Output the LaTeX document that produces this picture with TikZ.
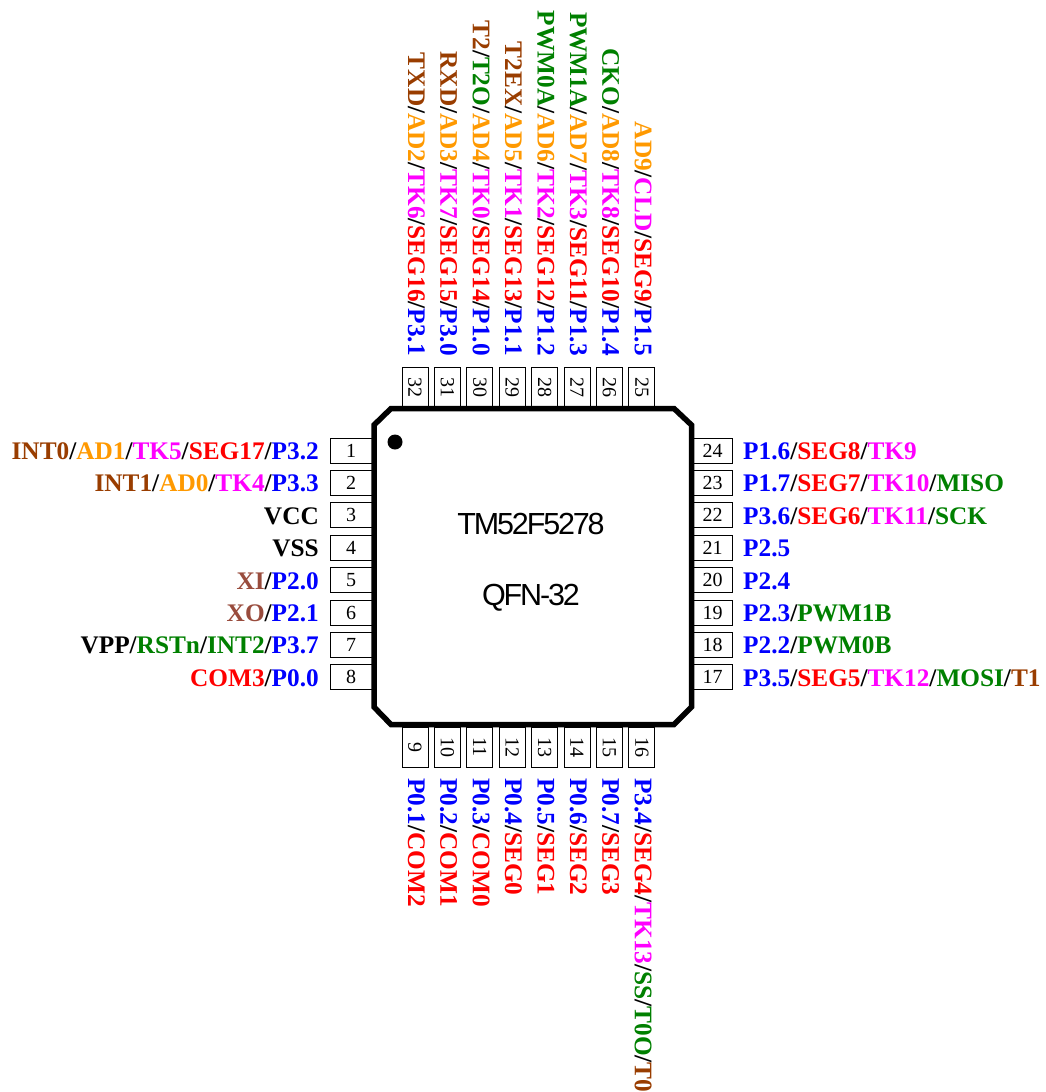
\documentclass[tikz,border=0pt]{standalone}
\usepackage{fontspec}
\setmainfont{Liberation Serif}
\newfontfamily\chipfont[LetterSpace=-7]{Liberation Sans}
\definecolor{cbr}{RGB}{153,61,0}
\definecolor{cor}{RGB}{255,153,0}
\definecolor{cxt}{RGB}{153,76,61}
\definecolor{cgr}{RGB}{0,128,0}
\definecolor{cmg}{RGB}{255,0,255}
\definecolor{crd}{RGB}{255,0,0}
\definecolor{cbl}{RGB}{0,0,255}
\newcommand{\br}[1]{\textcolor{cbr}{#1}}
\newcommand{\og}[1]{\textcolor{cor}{#1}}
\newcommand{\mg}[1]{\textcolor{cmg}{#1}}
\newcommand{\rd}[1]{\textcolor{crd}{#1}}
\newcommand{\bl}[1]{\textcolor{cbl}{#1}}
\newcommand{\gn}[1]{\textcolor{cgr}{#1}}
\newcommand{\xt}[1]{\textcolor{cxt}{#1}}
\tikzset{
  pinh/.style={draw=black,line width=1pt,fill=white,minimum width=42pt,minimum height=25pt,inner sep=0pt,font=\fontsize{20}{20}\selectfont},
  pinv/.style={pinh,rotate=-90,minimum width=40pt,minimum height=26pt},
  lab/.style={inner sep=0pt,font=\bfseries\fontsize{25.3}{25.3}\selectfont},
  labl/.style={lab,anchor=base east},
  labr/.style={lab,anchor=base west},
  labv/.style={lab,anchor=base west,rotate=-90},
  labt/.style={lab,anchor=base east,rotate=-90},
  chipbody/.style={line width=5.5pt,line join=miter,draw=black,fill=white},
  chiptext/.style={inner sep=0pt,font=\chipfont\fontsize{30.5}{30.5}\selectfont}
}
\begin{document}
\begin{tikzpicture}[x=1pt,y=-1pt]
\useasboundingbox (0,0) rectangle (1046,1092);
% pins
\foreach \n/\c in {1/0,2/1,3/2,4/3,5/4,6/5,7/6,8/7}
  \node[pinh] (p\n) at (351,450.5+32.4*\c) {\n};
\foreach \n/\c in {24/0,23/1,22/2,21/3,20/4,19/5,18/6,17/7}
  \node[pinh,minimum width=40pt] (p\n) at (712.5,450.5+32.4*\c) {\n};
\foreach \n/\c in {32/0,31/1,30/2,29/3,28/4,27/5,26/6,25/7}
  \node[pinv] (p\n) at (415+32.4*\c,387) {\n};
\foreach \n/\c in {9/0,10/1,11/2,12/3,13/4,14/5,15/6,16/7}
  \node[pinv] (p\n) at (415+32.4*\c,747) {\n};
% chip
\draw[chipbody] (391,408.5) -- (674,408.5) -- (691.5,425) -- (691.5,707) -- (674,724.5) -- (391,724.5) -- (374,707) -- (374,425) -- cycle;
\fill (395,442) circle (7.5);
\node[chiptext] (name) at (531,524) {TM52F5278};
\node[chiptext] (pkg) at (531,598) {QFN-32};
% left labels
\node[labl] (l1) at (319,459.4) {\br{INT0}/\og{AD1}/\mg{TK5}/\rd{SEG17}/\bl{P3.2}};
\node[labl] (l2) at (319,491.8) {\br{INT1}/\og{AD0}/\mg{TK4}/\bl{P3.3}};
\node[labl] (l3) at (319,524.2) {VCC};
\node[labl] (l4) at (319,556.6) {VSS};
\node[labl] (l5) at (319,589) {\xt{XI}/\bl{P2.0}};
\node[labl] (l6) at (319,621.4) {\xt{XO}/\bl{P2.1}};
\node[labl] (l7) at (319,653.8) {VPP/\gn{RSTn}/\gn{INT2}/\bl{P3.7}};
\node[labl] (l8) at (319,686.2) {\rd{COM3}/\bl{P0.0}};
% right labels
\node[labr] (r24) at (743,459.4) {\bl{P1.6}/\rd{SEG8}/\mg{TK9}};
\node[labr] (r23) at (743,491.8) {\bl{P1.7}/\rd{SEG7}/\mg{TK10}/\gn{MISO}};
\node[labr] (r22) at (743,524.2) {\bl{P3.6}/\rd{SEG6}/\mg{TK11}/\gn{SCK}};
\node[labr] (r21) at (743,556.6) {\bl{P2.5}};
\node[labr] (r20) at (743,589) {\bl{P2.4}};
\node[labr] (r19) at (743,621.4) {\bl{P2.3}/\gn{PWM1B}};
\node[labr] (r18) at (743,653.8) {\bl{P2.2}/\gn{PWM0B}};
\node[labr] (r17) at (743,686.2) {\bl{P3.5}/\rd{SEG5}/\mg{TK12}/\gn{MOSI}/\br{T1}};
% top labels
\node[labt] (t32) at (408,356) {\br{TXD}/\og{AD2}/\mg{TK6}/\rd{SEG16}/\bl{P3.1}};
\node[labt] (t31) at (440.4,356) {\br{RXD}/\og{AD3}/\mg{TK7}/\rd{SEG15}/\bl{P3.0}};
\node[labt] (t30) at (472.8,356) {\br{T2}/\gn{T2O}/\og{AD4}/\mg{TK0}/\rd{SEG14}/\bl{P1.0}};
\node[labt] (t29) at (505.2,356) {\br{T2EX}/\og{AD5}/\mg{TK1}/\rd{SEG13}/\bl{P1.1}};
\node[labt] (t28) at (537.6,356) {\gn{PWM0A}/\og{AD6}/\mg{TK2}/\rd{SEG12}/\bl{P1.2}};
\node[labt] (t27) at (570,356) {\gn{PWM1A}/\og{AD7}/\mg{TK3}/\rd{SEG11}/\bl{P1.3}};
\node[labt] (t26) at (602.4,356) {\gn{CKO}/\og{AD8}/\mg{TK8}/\rd{SEG10}/\bl{P1.4}};
\node[labt] (t25) at (634.8,356) {\og{AD9}/\mg{CLD}/\rd{SEG9}/\bl{P1.5}};
% bottom labels
\node[labv] (b9) at (408,778) {\bl{P0.1}/\rd{COM2}};
\node[labv] (b10) at (440.4,778) {\bl{P0.2}/\rd{COM1}};
\node[labv] (b11) at (472.8,778) {\bl{P0.3}/\rd{COM0}};
\node[labv] (b12) at (505.2,778) {\bl{P0.4}/\rd{SEG0}};
\node[labv] (b13) at (537.6,778) {\bl{P0.5}/\rd{SEG1}};
\node[labv] (b14) at (570,778) {\bl{P0.6}/\rd{SEG2}};
\node[labv] (b15) at (602.4,778) {\bl{P0.7}/\rd{SEG3}};
\node[labv] (b16) at (634.8,778) {\bl{P3.4}/\rd{SEG4}/\mg{TK13}/\gn{SS}/\gn{T0O}/\br{T0}};
\end{tikzpicture}
\end{document}
